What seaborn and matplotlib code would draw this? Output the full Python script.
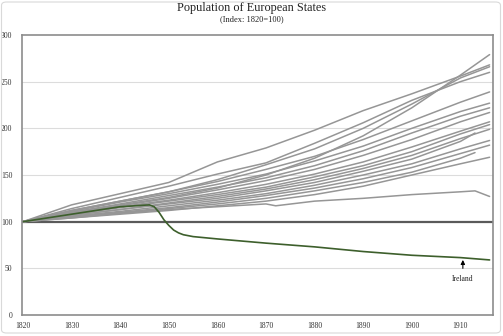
import numpy as np
import pandas as pd
import matplotlib
matplotlib.use("Agg")
import matplotlib.pyplot as plt
from matplotlib.patches import FancyBboxPatch
import seaborn as sns

# ---------------- data ----------------
decades = [1820, 1830, 1840, 1850, 1860, 1870, 1880, 1890, 1900, 1910]
end_year_long = 1916
end_year_short = 1913

state_01 = [100, 118, 130, 142, 164, 179, 198, 219, 237, 256]; state_01_end = 268
state_02 = [100, 110, 118, 126, 136, 150, 168, 192, 222, 257]; state_02_end = 279
state_03 = [100, 112, 122, 132, 145, 161, 178, 200, 226, 254]; state_03_end = 266
state_04 = [100, 114, 126, 138, 151, 163, 184, 206, 230, 250]; state_04_end = 260
state_05 = [100, 112, 122, 132, 143, 156, 170, 188, 208, 228]; state_05_end = 239
state_06 = [100, 111, 121, 130, 140, 151, 165, 181, 200, 218]; state_06_end = 227
state_07 = [100, 110, 119, 128, 137, 147, 160, 176, 195, 213]; state_07_end = 222
state_08 = [100, 109, 117, 125, 134, 144, 156, 171, 188, 207]; state_08_end = 217
state_09 = [100, 108, 116, 123, 131, 140, 151, 164, 180, 197]; state_09_end = 207
state_10 = [100, 108, 115, 122, 129, 137, 148, 160, 175, 194]; state_10_end = 204
state_11 = [100, 107, 113, 120, 127, 135, 145, 157, 171, 189]; state_11_end = 199
state_12 = [100, 107, 113, 119, 125, 133, 142, 154, 167, 186]; state_12_end = 195
state_13 = [100, 106, 111, 117, 123, 130, 139, 150, 162, 178]; state_13_end = 187
state_14 = [100, 105, 110, 115, 121, 128, 136, 146, 158, 173]; state_14_end = 182
state_15 = [100, 105, 109, 114, 119, 125, 133, 142, 153, 168]; state_15_end = 174
state_16 = [100, 104, 108, 112, 117, 122, 129, 138, 150, 162]; state_16_end = 169

france_years = [1820, 1830, 1840, 1850, 1860, 1870, 1872, 1880, 1890, 1900, 1910, 1913, 1916]
france_vals = [100, 104, 109, 113, 116, 119, 117, 122, 125, 129, 132, 133, 127]

ireland_years = [1820, 1830, 1840, 1846, 1847, 1848, 1849, 1850, 1851, 1852, 1853, 1855,
                 1860, 1870, 1880, 1890, 1900, 1910, 1916]
ireland_vals = [100, 108, 116, 118, 116, 110, 102, 96, 91, 88, 86, 84,
                81.5, 77, 73, 68, 64, 61.5, 59]

long_states = [state_01, state_02, state_03, state_04, state_05, state_06, state_07,
               state_08, state_09, state_10, state_11, state_13, state_14, state_16]
long_ends = [state_01_end, state_02_end, state_03_end, state_04_end, state_05_end,
             state_06_end, state_07_end, state_08_end, state_09_end, state_10_end,
             state_11_end, state_13_end, state_14_end, state_16_end]
short_states = [state_12, state_15]
short_ends = [state_12_end, state_15_end]

rows = []
k = 0
for vals, end in zip(long_states, long_ends):
    k += 1
    for y, v in zip(decades + [end_year_long], vals + [end]):
        rows.append(("s%02d" % k, y, v))
for vals, end in zip(short_states, short_ends):
    k += 1
    for y, v in zip(decades + [end_year_short], vals + [end]):
        rows.append(("s%02d" % k, y, v))
for y, v in zip(france_years, france_vals):
    rows.append(("France", y, v))
df = pd.DataFrame(rows, columns=["state", "year", "index"])
df_ire = pd.DataFrame({"state": "Ireland", "year": ireland_years, "index": ireland_vals})

# ---------------- plot ----------------
sns.set_theme(style="white")
plt.rcParams["font.family"] = ["Liberation Serif", "DejaVu Serif"]

fig = plt.figure(figsize=(5.03, 3.36), dpi=100)
ax = fig.add_axes([22 / 503, 1 - 315 / 336, (493 - 22) / 503, (315 - 35) / 336])

for yv in [50, 150, 200, 250]:
    ax.axhline(yv, color="#dcdcdc", lw=0.8, zorder=0)

gray = "#969696"
palette = {s: gray for s in df["state"].unique()}
sns.lineplot(data=df, x="year", y="index", hue="state", units="state", estimator=None,
             palette=palette, lw=1.1, legend=False, ax=ax, sort=True)
sns.lineplot(data=df_ire, x="year", y="index", color="#3d5f2c", lw=1.2, ax=ax,
             estimator=None, legend=False)

ax.axhline(100, color="#5a5a5a", lw=1.6, zorder=1)

ax.set_xlim(1819.8, 1916.7)
ax.set_ylim(0, 300)
ax.set_xticks(list(range(1820, 1911, 10)))
ax.set_yticks(list(range(0, 301, 50)))
ax.set_xlabel("")
ax.set_ylabel("")
ax.tick_params(axis="both", length=0, labelsize=5.5, colors="#333333")
ax.tick_params(axis="y", pad=7)
ax.tick_params(axis="x", pad=5)
for sp in ax.spines.values():
    sp.set_visible(True)
    sp.set_color("#8c8c8c")
    sp.set_linewidth(1.2)

ax.annotate("", xy=(1910.5, 62), xytext=(1910.5, 47),
            arrowprops=dict(arrowstyle="-|>", color="black", lw=0.8, mutation_scale=6))
ax.text(1910.5, 38.5, "Ireland", ha="center", va="center", fontsize=5.5, color="#222222")

fig.text(0.5, 1 - 8 / 336, "Population of European States", ha="center", va="center",
         fontsize=8.8, color="#222222")
fig.text(0.5, 1 - 19 / 336, "(Index: 1820=100)", ha="center", va="center",
         fontsize=6, color="#222222")

border = FancyBboxPatch((1.5 / 503, 1 - 333 / 336), 499 / 503, 331 / 336,
                        boxstyle="round,pad=0,rounding_size=0.01",
                        transform=fig.transFigure, fill=False,
                        edgecolor="#d9d9d9", lw=0.8)
fig.patches.append(border)

fig.savefig("out.png", dpi=100)
